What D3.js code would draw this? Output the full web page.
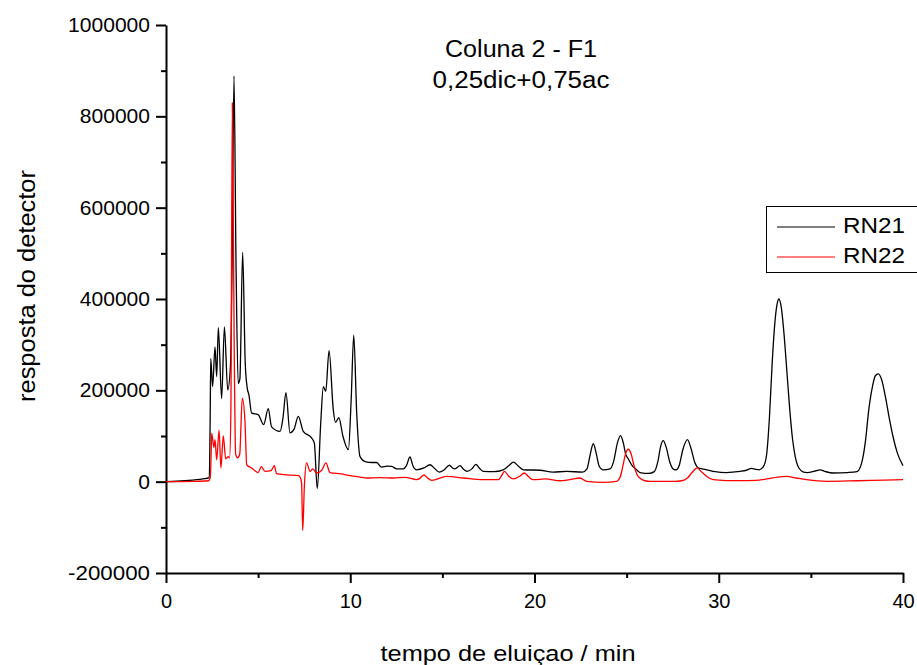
<!DOCTYPE html>
<html>
<head>
<meta charset="utf-8">
<script src="https://cdn.jsdelivr.net/npm/d3@7"></script>
<style>
  html, body { margin: 0; padding: 0; background: #fff; }
  svg { display: block; font-family: "Liberation Sans", Arial, sans-serif; }
</style>
</head>
<body>
<svg id="chart" width="917" height="665"></svg>
<script>
// ---------- data ----------
const titleLines = ["Coluna 2 - F1", "0,25dic+0,75ac"];
const xLabel = "tempo de eluiçao / min";
const yLabel = "resposta do detector";
const seriesNames = ["RN21", "RN22"];
const seriesColors = ["#000000", "#ff0000"];
const xMajorTicks = [0, 10, 20, 30, 40];
const xMinorTicks = [5, 15, 25, 35];
const yMajorTicks = [-200000, 0, 200000, 400000, 600000, 800000, 1000000];
const yMinorTicks = [-100000, 100000, 300000, 500000, 700000, 900000];

// [time (min), detector response]
const rn21 = [
  [0, 0], [1.0, 2000], [2.0, 6000], [2.35, 9000], [2.4, 150000], [2.43, 270000],
  [2.53, 208000], [2.66, 295000], [2.75, 230000], [2.84, 337000], [3.02, 182000],
  [3.17, 339000], [3.35, 201000], [3.5, 255000], [3.6, 520000], [3.69, 888000],
  [3.8, 480000], [3.92, 215000], [4.01, 225000], [4.16, 502000], [4.3, 260000],
  [4.41, 205000], [4.5, 190000], [4.65, 150000], [5.0, 147000], [5.3, 125000],
  [5.55, 160000], [5.73, 120000], [6.19, 110000], [6.35, 140000], [6.51, 195000],
  [6.73, 107000], [6.95, 115000], [7.18, 143000], [7.45, 110000], [7.9, 96000],
  [8.05, 85000], [8.21, -15000], [8.4, 130000], [8.54, 208000], [8.67, 198000],
  [8.85, 287000], [9.08, 157000], [9.2, 130000], [9.38, 140000], [9.6, 100000],
  [9.9, 70000], [10.05, 180000], [10.19, 321000], [10.35, 150000], [10.53, 55000],
  [10.8, 44000], [11.2, 42000], [11.43, 42000], [11.7, 32000], [12.0, 34000],
  [12.25, 33500], [12.52, 28000], [12.88, 28000], [13.05, 35000], [13.24, 54000],
  [13.4, 35000], [13.6, 26000], [14.0, 30000], [14.33, 37000], [14.55, 30000],
  [14.83, 21000], [15.1, 26000], [15.38, 36000], [15.55, 30000], [15.68, 28000],
  [15.96, 35000], [16.15, 27000], [16.35, 22500], [16.6, 28000], [16.82, 38000],
  [17.0, 30000], [17.22, 22500], [17.8, 22000], [18.3, 26000], [18.6, 35000],
  [18.86, 43000], [19.1, 35000], [19.4, 26000], [20.3, 25000], [21.0, 21000],
  [21.75, 22500], [22.6, 21000], [22.85, 28000], [23.0, 55000], [23.19, 83000],
  [23.35, 62000], [23.5, 35000], [23.73, 26000], [24.1, 28000], [24.3, 45000],
  [24.5, 85000], [24.67, 101000], [24.82, 85000], [24.95, 60000], [25.09, 50000],
  [25.3, 35000], [25.54, 26000], [25.73, 20000], [26.2, 18000], [26.5, 22000],
  [26.7, 45000], [26.85, 78000], [26.99, 90000], [27.15, 75000], [27.35, 42000],
  [27.55, 27000], [27.68, 26000], [27.85, 35000], [28.05, 70000], [28.3, 92000],
  [28.5, 72000], [28.7, 42000], [28.9, 30000], [29.1, 28000], [29.35, 26000],
  [29.8, 22000], [30.4, 20000], [31.15, 22500], [31.5, 25000], [31.78, 29000],
  [32.0, 27000], [32.2, 26000], [32.45, 35000], [32.6, 60000], [32.75, 140000],
  [32.9, 260000], [33.05, 350000], [33.15, 385000], [33.26, 400000], [33.4, 380000],
  [33.55, 320000], [33.7, 240000], [33.85, 160000], [34.0, 95000], [34.15, 55000],
  [34.35, 30000], [34.6, 21000], [34.8, 20000], [35.2, 23000], [35.5, 26000],
  [35.8, 22000], [36.2, 19000], [37.0, 20000], [37.5, 22000], [37.75, 40000],
  [37.95, 85000], [38.15, 160000], [38.35, 210000], [38.5, 232000], [38.66, 236000],
  [38.85, 222000], [39.05, 185000], [39.25, 140000], [39.45, 100000], [39.7, 62000],
  [40.0, 35000]
];

const rn22 = [
  [0, 0], [1.5, 700], [2.3, 2000], [2.4, 8000], [2.45, 60000], [2.48, 106000],
  [2.6, 75000], [2.66, 92000], [2.75, 48000], [2.88, 113000], [2.98, 30000],
  [3.11, 100000], [3.24, 50000], [3.38, 55000], [3.45, 52000], [3.52, 150000],
  [3.6, 830000], [3.7, 300000], [3.78, 60000], [3.89, 52000], [4.0, 60000],
  [4.14, 183000], [4.29, 129000], [4.38, 37000], [4.65, 30000], [5.0, 20000],
  [5.18, 33000], [5.37, 22500], [5.7, 24000], [5.88, 35000], [6.0, 17500],
  [6.55, 15000], [7.18, 13000], [7.3, 8000], [7.36, -3000], [7.42, -107000],
  [7.51, -10000], [7.63, 41000], [7.82, 22500], [7.96, 28000], [8.17, 19000],
  [8.45, 25000], [8.68, 41000], [8.9, 20000], [9.5, 17000], [10.0, 13000],
  [10.53, 10000], [10.9, 8000], [11.6, 9000], [12.34, 8000], [12.97, 9500],
  [13.6, 4400], [13.8, 8000], [14.0, 15000], [14.2, 8000], [14.42, 3000],
  [15.23, 11500], [16.14, 8000], [17.22, 4400], [18.04, 4400], [18.2, 12000],
  [18.37, 22500], [18.6, 12000], [18.86, 6000], [19.2, 12000], [19.45, 19000],
  [19.7, 10000], [19.93, 4400], [20.6, 6000], [21.38, 2000], [21.9, 4400],
  [22.47, 8000], [22.83, 700], [23.73, -1500], [24.45, 700], [24.65, 10000],
  [24.8, 35000], [24.95, 62000], [25.09, 71000], [25.25, 60000], [25.4, 35000],
  [25.55, 17000], [25.75, 7000], [26.0, 2000], [26.3, 700], [27.55, 700],
  [28.0, 2000], [28.3, 8000], [28.55, 20000], [28.83, 30000], [29.05, 22000],
  [29.35, 11500], [29.7, 4400], [30.4, 2500], [31.15, 2200], [32.0, 3000],
  [32.6, 6000], [33.2, 10000], [33.68, 11500], [34.2, 8000], [34.77, 4400],
  [35.85, 700], [37.5, 2000], [39.0, 3500], [40.0, 4400]
];

// ---------- drawing ----------
const svg = d3.select("#chart");
const x = d3.scaleLinear().domain([0, 40]).range([166, 903]);
const y = d3.scaleLinear().domain([-200000, 1000000]).range([573, 25]);

const axisColor = "#000";
const axisWidth = 2;
const plainFormat = d => String(d); // hyphen-minus, as in the reference

// x axis
const gx = svg.append("g").attr("transform", `translate(0,${y(-200000)})`);
gx.call(d3.axisBottom(x).tickValues(xMajorTicks).tickSize(10).tickSizeOuter(0).tickPadding(11).tickFormat(plainFormat));
gx.append("g").call(d3.axisBottom(x).tickValues(xMinorTicks).tickSize(5).tickSizeOuter(0).tickFormat(""))
  .select(".domain").remove();

// y axis
const gy = svg.append("g").attr("transform", `translate(${x(0)},0)`);
gy.call(d3.axisLeft(y).tickValues(yMajorTicks).tickSize(10).tickSizeOuter(0).tickPadding(6).tickFormat(plainFormat));
gy.append("g").call(d3.axisLeft(y).tickValues(yMinorTicks).tickSize(5).tickSizeOuter(0).tickFormat(""))
  .select(".domain").remove();

svg.selectAll(".domain, .tick line").attr("stroke", axisColor).attr("stroke-width", axisWidth);
gx.selectAll(".tick text").attr("font-size", 20).attr("fill", "#000")
  .attr("font-family", "Liberation Sans, Arial, sans-serif");
gy.selectAll(".tick text").attr("font-size", 20).attr("fill", "#000")
  .attr("font-family", "Liberation Sans, Arial, sans-serif")
  .attr("textLength", function () { return this.textContent.length * 11.7; })
  .attr("lengthAdjust", "spacingAndGlyphs");

// lines
const line = d3.line().x(d => x(d[0])).y(d => y(d[1])).curve(d3.curveMonotoneX);
[rn21, rn22].forEach((data, i) => {
  svg.append("path").datum(data)
    .attr("fill", "none")
    .attr("stroke", seriesColors[i])
    .attr("stroke-width", 1.3)
    .attr("stroke-linejoin", "round")
    .attr("d", line);
});

// title
const titleWidths = [152, 177];
const titleBaselines = [57, 88];
titleLines.forEach((t, i) => {
  svg.append("text").attr("x", 521).attr("y", titleBaselines[i])
    .attr("text-anchor", "middle").attr("font-size", 23)
    .attr("textLength", titleWidths[i]).attr("lengthAdjust", "spacingAndGlyphs")
    .text(t);
});

// axis labels
svg.append("text").attr("x", 508).attr("y", 661).attr("text-anchor", "middle")
  .attr("font-size", 22).attr("textLength", 255).attr("lengthAdjust", "spacingAndGlyphs")
  .text(xLabel);
svg.append("text").attr("transform", "translate(35,286) rotate(-90)")
  .attr("text-anchor", "middle").attr("font-size", 23)
  .attr("textLength", 232).attr("lengthAdjust", "spacingAndGlyphs")
  .text(yLabel);

// legend
const legend = svg.append("g");
legend.append("rect").attr("x", 766.5).attr("y", 206.5).attr("width", 160).attr("height", 66)
  .attr("fill", "#fff").attr("stroke", "#000").attr("stroke-width", 1);
const legendRows = [227, 257];
seriesNames.forEach((name, i) => {
  legend.append("line").attr("x1", 777).attr("x2", 835)
    .attr("y1", legendRows[i]).attr("y2", legendRows[i])
    .attr("stroke", seriesColors[i]).attr("stroke-width", 1.2);
  legend.append("text").attr("x", 843).attr("y", legendRows[i] + 6)
    .attr("font-size", 22).attr("textLength", 62).attr("lengthAdjust", "spacingAndGlyphs")
    .text(name);
});
</script>
</body>
</html>
